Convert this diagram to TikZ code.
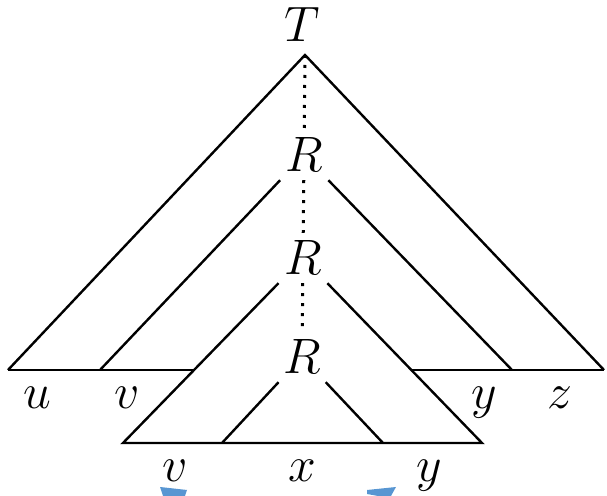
\documentclass[tikz,border=0pt]{standalone}
\definecolor{arrowblue}{RGB}{88,150,210}
\begin{document}
\begin{tikzpicture}[x=0.5pt,y=-0.5pt, line width=1.2pt,
  lbl/.style={font=\Huge, inner sep=0pt, anchor=base},
  rnode/.style={font=\Huge, inner sep=3.5pt},
  dotline/.style={dash pattern=on 1.5pt off 3.5pt, line width=1.5pt}]
\useasboundingbox (0,0) rectangle (607,496);
% apex and labels
\coordinate (top) at (305,55);
\node[lbl] (T) at (302,42) {$T$};
\node[rnode] (R1) at (304,155) {$R$};
\node[rnode] (R2) at (303,258) {$R$};
\node[rnode] (R3) at (302,357) {$R$};
% corners
\coordinate (a) at (8,370);
\coordinate (b) at (604,370);
\coordinate (m1) at (100,370);
\coordinate (m2) at (512,370);
\coordinate (c1) at (193,370);
\coordinate (c2) at (412,370);
\coordinate (l1) at (123,443);
\coordinate (l2) at (482,443);
\coordinate (i1) at (222,443);
\coordinate (i2) at (383,443);
% outer triangle
\draw (a) -- (top) -- (b);
\draw (a) -- (c1);
\draw (c2) -- (b);
% middle triangle
\draw (m1) -- (R1) -- (m2);
% lower triangle
\draw (R2) -- (l1) -- (l2) -- (R2);
% inner triangle
\draw (i1) -- (R3) -- (i2);
% dotted spine
\draw[dotline] (top) -- (R1) -- (R2) -- (R3);
% leaf labels
\node[lbl] (u) at (37,409) {$u$};
\node[lbl] (v1) at (127,409) {$v$};
\node[lbl] (y1) at (484,409) {$y$};
\node[lbl] (z) at (560,409) {$z$};
\node[lbl] (v2) at (175,482) {$v$};
\node[lbl] (x) at (302,482) {$x$};
\node[lbl] (y2) at (429,482) {$y$};
% cut-off blue arrow tips at the bottom edge
\fill[arrowblue] (160,487) -- (187,490) -- (185,496) -- (163,496) -- cycle;
\fill[arrowblue] (367,490) -- (396,487) -- (391,496) -- (378,496) -- (367,494) -- cycle;
\end{tikzpicture}
\end{document}
